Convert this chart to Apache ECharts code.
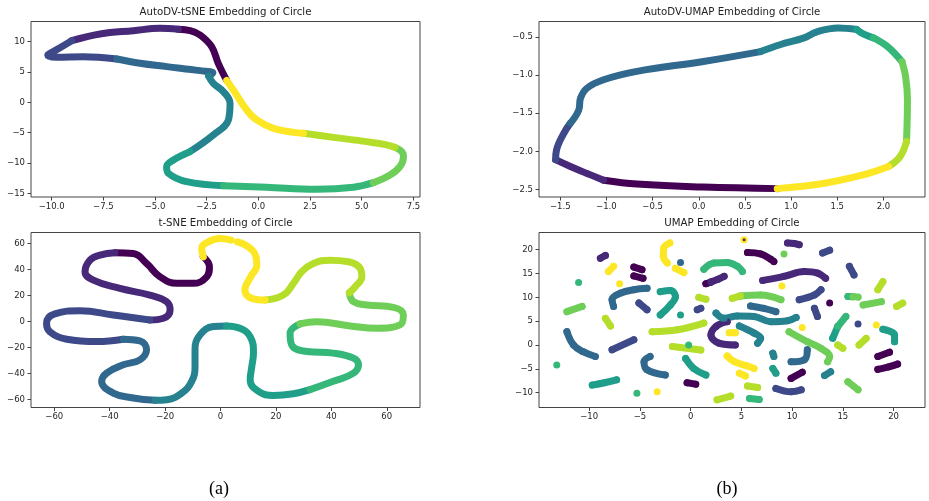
<!DOCTYPE html>
<html><head><meta charset="utf-8">
<script src="https://cdn.jsdelivr.net/npm/echarts@6/dist/echarts.min.js"></script>
<style>html,body{margin:0;padding:0;background:#fff}#c{width:929px;height:501px}</style>
</head><body><div id="c"></div>
<script>
// viridis, 10 classes (position on the circle)
const viridis10 = ['#440154','#482878','#3e4989','#31688e','#26828e','#1f9e89','#35b779','#6ece58','#b5de2b','#fde725'];

// tick values
const tlXTicks = [-10,-7.5,-5,-2.5,0,2.5,5,7.5];
const tlYTicks = [-15,-10,-5,0,5,10];
const trXTicks = [-1.5,-1,-0.5,0,0.5,1,1.5,2];
const trYTicks = [-2.5,-2,-1.5,-1,-0.5];
const blXTicks = [-60,-40,-20,0,20,40,60];
const blYTicks = [-60,-40,-20,0,20,40,60];
const brXTicks = [-10,-5,0,5,10,15,20];
const brYTicks = [-10,-5,0,5,10,15,20];

// AutoDV-tSNE: one traced path per class
const autoTsneSegments = [
  [[-3.87,12.03],[-3.3,11.8],[-2.82,11.1],[-2.26,9.18],[-1.94,6.43],[-1.53,3.6]],
  [[-9.03,10.16],[-7.66,11.26],[-6.05,11.81],[-4.76,12.2],[-3.87,12.03]],
  [[-6.85,7.14],[-8.47,7.53],[-9.76,7.42],[-10.19,7.8],[-9.84,8.52],[-9.03,10.16]],
  [[-2.4,4.3],[-2.2,4.85],[-2.82,5.22],[-4.44,5.88],[-5.73,6.43],[-6.85,7.14]],
  [[-3.31,-8.13],[-2.18,-5.38],[-1.45,-2.9],[-1.37,-0.16],[-1.69,1.76],[-2.18,3.13],[-2.4,4.3]],
  [[-1.69,-13.74],[-3.47,-13.08],[-4.35,-11.7],[-4.44,-10.6],[-4.11,-9.5],[-3.31,-8.13]],
  [[5.56,-13.24],[4.6,-14.0],[2.82,-14.34],[0.4,-14.0],[-1.69,-13.74]],
  [[6.61,-7.42],[6.94,-8.13],[7.02,-8.96],[6.85,-10.6],[6.37,-11.98],[5.56,-13.24]],
  [[2.18,-5.1],[3.63,-5.77],[5.24,-6.48],[6.2,-7.0],[6.61,-7.42]],
  [[-1.53,3.6],[-1.21,2.03],[-0.56,-1.26],[-0.08,-2.91],[0.73,-4.29],[1.69,-4.95],[2.18,-5.1]]
];

// AutoDV-UMAP
const autoUmapSegments = [
  [[-1.03,-2.38],[-0.67,-2.43],[0.05,-2.47],[0.85,-2.49]],
  [[-1.55,-2.11],[-1.39,-2.2],[-1.21,-2.29],[-1.03,-2.38]],
  [[-1.39,-1.63],[-1.46,-1.76],[-1.54,-1.98],[-1.55,-2.11]],
  [[0.67,-0.69],[0.05,-0.82],[-0.67,-0.95],[-1.03,-1.06],[-1.21,-1.17],[-1.28,-1.3],[-1.3,-1.46],[-1.39,-1.63]],
  [[1.71,-0.4],[1.51,-0.38],[1.28,-0.43],[1.14,-0.51],[0.88,-0.6],[0.67,-0.69]],
  [[1.89,-0.51],[1.77,-0.45],[1.71,-0.4]],
  [[2.2,-0.82],[2.04,-0.62],[1.89,-0.51]],
  [[2.25,-1.87],[2.26,-1.32],[2.24,-1.02],[2.2,-0.82]],
  [[2.056,-2.2],[2.18,-2.07],[2.25,-1.87]],
  [[0.85,-2.49],[1.31,-2.43],[1.78,-2.31],[2.056,-2.2]]
];

// t-SNE (null = gap in the curve)
const tsneSegments = [
  [[-38.1,52.85],[-31.5,52.3],[-26.7,44.7],[-21.8,34.4],[-15.8,29.4],[-9.8,29.4],[-5.0,34.4],[-4.0,42.1],[-6.2,49.8]],
  [[-25.5,1.3],[-20.6,2.6],[-18.2,8.9],[-19.4,15.3],[-25.5,20.4],[-36.3,25.5],[-45.9,31.9],[-48.9,38.3],[-47.1,47.2],[-43.5,51.1],[-38.1,52.85]],
  [[-35.1,-13.5],[-44.7,-15.3],[-55.5,-13.5],[-61.6,-7.7],[-62.8,-1.3],[-59.8,5.9],[-50.7,8.4],[-38.7,5.1],[-25.5,1.3]],
  [[-23.6,-60.5],[-31.5,-58.7],[-38.7,-54.9],[-42.9,-45.9],[-41.1,-39.6],[-35.1,-33.2],[-29.1,-29.4],[-26.7,-21.7],[-29.1,-14.8],[-35.1,-13.5]],
  [[2.2,-3.3],[-2.6,-3.8],[-7.4,-10.2],[-9.2,-21.7],[-9.2,-34.5],[-10.4,-45.9],[-14.0,-54.9],[-19.4,-60.0],[-23.6,-60.5]],
  [[32.3,-52.3],[26.3,-55.4],[19.1,-56.7],[13.7,-53.6],[10.7,-44.7],[11.3,-34.5],[11.9,-24.2],[10.7,-11.5],[7.0,-5.1],[2.2,-3.3]],
  [[28.7,-1.8],[25.1,-8.9],[25.7,-17.9],[31.1,-23.0],[40.7,-24.2],[48.0,-28.1],[49.8,-33.2],[48.0,-39.6],[40.7,-45.9],[32.3,-52.3]],
  [[46.5,22.2],[48.0,15.3],[52.8,12.8],[62.4,11.0],[66.0,5.1],[64.8,-2.5],[56.4,-5.1],[46.8,-3.3],[34.7,0.0],[28.7,-1.8]],
  [[16.1,16.6],[22.7,20.4],[26.3,29.4],[29.3,38.3],[33.5,44.7],[39.5,47.2],[46.2,46.0],[50.4,40.9],[51.0,34.5],[48.6,26.8],[46.5,22.2]],
  [[-6.2,49.8],[-6.8,56.2],[-4.4,61.3],[-0.2,63.8],[3.8,62.6],null,[6.1,61.3],[10.1,57.4],[12.8,49.8],[13.1,43.4],[10.9,34.5],[8.8,24.3],[11.3,17.9],[16.1,16.6]]
];

// UMAP fragments per class (null separates fragments)
const umapSegments = [
  [[5.6,19.4],[6.9,19.1],[7.9,18.0],[8.2,17.5],null,[-5.6,16.35],[-4.8,15.8],null,[-5.6,14.5],[-4.7,14.0],null,
   [1.5,12.85],[2.0,13.2],null,[13.7,8.8],null,[18.45,-2.4],[19.6,-1.5],null,[18.45,-5.1],[19.5,-4.6],[20.4,-4.0],null,
   [9.9,-7.0],[11.0,-5.7],null,[-0.35,-7.9],[0.5,-8.2]],
  [[9.55,21.4],[10.2,21.3],[10.7,21.05],null,[-8.9,18.2],[-8.4,18.8],null,[2.0,13.2],[2.7,13.8],[3.3,14.4],null,
   [7.1,13.55],[9.2,14.4],[11.2,15.4],[12.5,15.1],[13.3,14.0],null,[3.6,4.9],[2.5,3.9],[2.0,2.1],[2.8,0.4],[4.4,0.0]],
  [[13.0,19.3],[13.7,19.9],null,[10.7,9.5],[12.2,10.5],[12.85,11.6],null,[-5.1,8.8],[-4.3,7.4],null,[0.65,7.4],[1.0,7.7],null,
   [12.2,7.7],[12.5,6.0],null,[15.65,16.5],[16.1,14.7],null,[16.5,4.4],null,[8.4,-9.1],[9.9,-9.8],[10.9,-9.4],null,
   [-7.75,-1.0],[-5.6,1.1]],
  [[-1.0,17.3],null,[-7.6,8.1],[-7.75,9.5],[-6.9,10.9],[-5.6,11.6],[-4.3,11.9],null,[5.9,8.2],[7.2,7.7],[8.4,7.0],null,
   [-12.2,2.8],[-11.55,0.0],[-10.6,-1.4],[-9.4,-2.4],null,[-4.0,-2.4],[-4.6,-3.5],[-4.3,-5.2],[-2.5,-6.3],null,
   [9.9,-3.5],[11.2,-3.1],[11.5,-1.0]],
  [[2.5,6.7],[3.3,5.6],[4.6,6.1],[6.25,6.0],[7.9,4.9],[9.55,5.1],[10.4,5.8],null,[4.8,4.0],[6.25,2.5],[6.9,1.4],[6.6,0.4],null,
   [13.2,-6.4],[13.8,-5.6],null,[8.1,-1.7],[8.2,-2.4]],
  [[-3.0,11.2],[-2.0,11.45],[-1.5,10.2],[-2.0,8.4],[-3.0,6.3],null,[-1.0,6.3],null,[14.0,1.4],[14.5,3.9],null,
   [18.95,3.3],[20.1,2.1],[20.1,0.7],null,[8.1,-4.9],[8.4,-5.9],null,[-9.7,-8.4],[-8.5,-7.9],[-7.3,-7.3],null,
   [-0.5,-2.8],[0.3,-4.9],[1.5,-6.3]],
  [[-11.05,13.1],null,[1.3,15.9],[2.3,17.2],[3.6,17.3],[4.6,16.5],[5.1,15.4],null,[14.5,3.9],[15.3,6.0],null,
   [15.5,10.2],[16.0,10.15],null,[-0.2,0.0],null,[-5.3,-10.1],null,[-13.2,-4.2],null,[5.8,-11.2],[6.75,-11.4]],
  [[9.2,19.1],null,[-12.2,7.0],[-10.7,8.1],null,[4.9,10.3],[6.9,10.5],[8.9,9.5],null,
   [9.7,2.8],[11.5,0.7],[12.85,-0.7],[13.7,-2.4],[13.5,-3.5],null,[16.0,10.15],[16.5,10.05],null,[17.0,8.4],[18.8,9.1],null,
   [15.5,-7.7],[16.5,-9.4]],
  [[0.8,10.0],[1.5,9.6],null,[-8.4,5.6],[-7.9,4.0],null,[4.1,9.8],[4.9,10.3],null,[18.45,11.6],[18.95,13.3],null,
   [20.3,8.1],[20.9,8.8],null,[16.6,0.0],[17.3,1.4],null,[14.5,0.0],[15.0,-0.7],null,[5.6,-8.6],[6.6,-8.9],null,
   [2.6,-11.5],[3.95,-10.7],null,[-3.8,2.8],[-1.3,3.2],[1.3,4.6],null,[-1.8,-0.3],[1.0,-1.05]],
  [[5.27,22.1],null,[-2.05,21.4],[-2.65,20.35],[-2.7,18.6],[-2.3,17.2],null,[-1.5,16.1],[-0.67,15.2],null,
   [-8.1,15.4],[-7.6,16.5],null,[-7.0,12.85],null,[9.0,12.4],null,[3.8,2.6],[4.4,2.6],null,[11.0,3.7],null,[18.3,4.2],null,
   [4.8,-5.9],[5.4,-6.5],null,[3.6,-2.3],[4.3,-3.5],[5.6,-4.4],[6.25,-4.9],null,[-3.3,-9.8]]
];
const umapOverlayDot = [[5.27,22.1]];

const panelTitles = ['AutoDV-tSNE Embedding of Circle','AutoDV-UMAP Embedding of Circle','t-SNE Embedding of Circle','UMAP Embedding of Circle'];
const subCaptions = ['(a)','(b)'];

const panels = [
  {grid:{left:31,top:21.5,width:389,height:175.5}, x:[-11.0,7.82], y:[-15.6,13.32], xt:tlXTicks, yt:tlYTicks, xd:1, yd:0, segs:autoTsneSegments, smooth:0.4, dots:false},
  {grid:{left:539,top:21.5,width:386,height:175.5}, x:[-1.73,2.45], y:[-2.6,-0.295], xt:trXTicks, yt:trYTicks, xd:1, yd:1, segs:autoUmapSegments, smooth:0.4, dots:false},
  {grid:{left:31,top:232.5,width:389,height:175}, x:[-68.4,72.0], y:[-66.0,68.5], xt:blXTicks, yt:blYTicks, xd:0, yd:0, segs:tsneSegments, smooth:0.45, dots:false},
  {grid:{left:539,top:232.5,width:386,height:175}, x:[-14.95,23.1], y:[-13.1,23.6], xt:brXTicks, yt:brYTicks, xd:0, yd:0, segs:umapSegments, smooth:0.4, dots:true}
];

const fmt = (v,d) => (v < 0 ? '\u2212' : '') + Math.abs(v).toFixed(d);
const FONT = 'DejaVu Sans';
const axisCommon = (i, rng, ticks, dec, isX) => ({
  type:'value', gridIndex:i, min:rng[0], max:rng[1],
  axisLine:{show:false, onZero:false}, splitLine:{show:false},
  axisTick:{show:true, inside:false, length:3.5, lineStyle:{color:'#444', width:1}, customValues:ticks},
  axisLabel:{customValues:ticks, formatter:(v)=>fmt(v,dec), fontSize:8.5, fontFamily:FONT, color:'#262626', margin: isX ? 5 : 6}
});

const grids = [], xAxes = [], yAxes = [], series = [];
panels.forEach((p,i) => {
  grids.push(Object.assign({show:true, borderColor:'#444', borderWidth:1, backgroundColor:'transparent', containLabel:false}, p.grid));
  xAxes.push(axisCommon(i, p.x, p.xt, p.xd, true));
  yAxes.push(axisCommon(i, p.y, p.yt, p.yd, false));
  p.segs.forEach((pts,k) => {
    series.push({
      type:'line', xAxisIndex:i, yAxisIndex:i, silent:true, animation:false,
      data: pts.map(d => d === null ? ['-','-'] : d),
      smooth:p.smooth, connectNulls:false,
      showSymbol:p.dots, showAllSymbol:true, symbol:'circle', symbolSize:7,
      itemStyle:{color:viridis10[k]},
      lineStyle:{color:viridis10[k], width:7, cap:'round', join:'round'},
      emphasis:{disabled:true}
    });
  });
});
series.push({type:'scatter', xAxisIndex:3, yAxisIndex:3, silent:true, animation:false, data:umapOverlayDot,
  symbolSize:3, itemStyle:{color:viridis10[0]}, z:5});

const graphics = [];
panels.forEach((p,i) => {
  graphics.push({type:'text', x:p.grid.left + p.grid.width/2, y:p.grid.top - 9.5,
    style:{text:panelTitles[i], font:'10.2px "DejaVu Sans"', fill:'#222', textAlign:'center', textVerticalAlign:'middle'}});
});
graphics.push({type:'text', x:219, y:489, style:{text:subCaptions[0], font:'18px "Liberation Serif"', fill:'#000', textAlign:'center', textVerticalAlign:'middle'}});
graphics.push({type:'text', x:727, y:489, style:{text:subCaptions[1], font:'18px "Liberation Serif"', fill:'#000', textAlign:'center', textVerticalAlign:'middle'}});

const chart = echarts.init(document.getElementById('c'), null, {renderer:'canvas'});
chart.setOption({animation:false, backgroundColor:'#fff', grid:grids, xAxis:xAxes, yAxis:yAxes, series:series, graphic:graphics});
</script>
</body></html>
